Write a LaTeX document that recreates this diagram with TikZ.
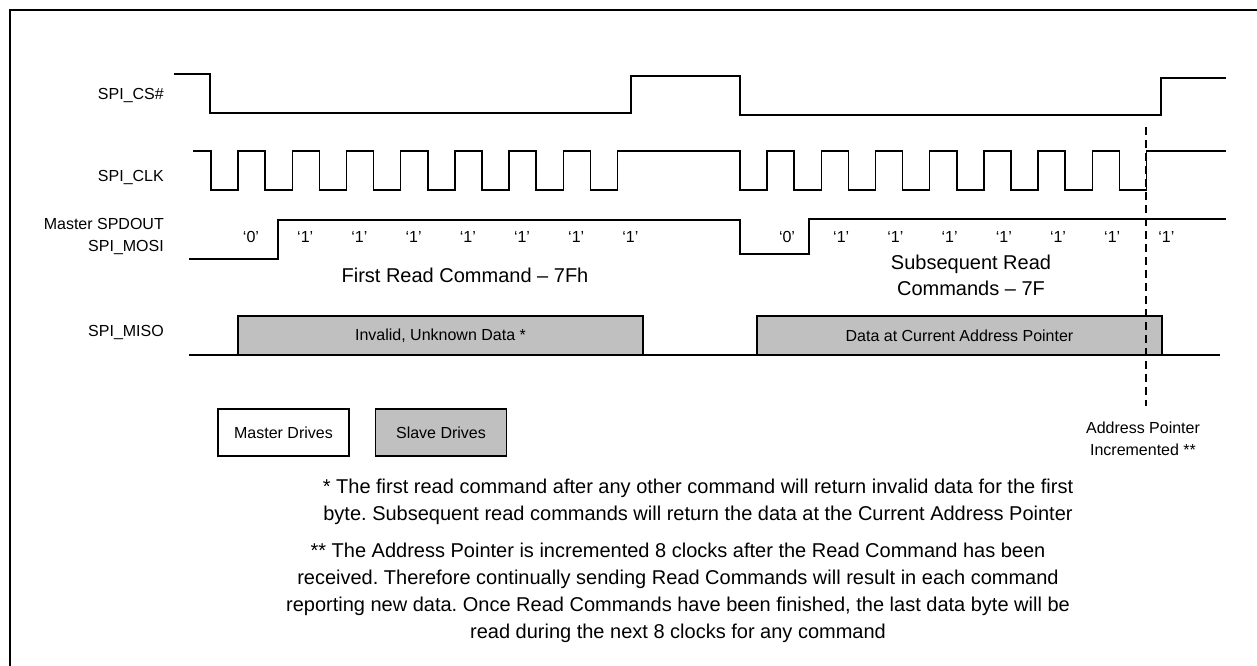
\documentclass[tikz,border=0pt]{standalone}
\usepackage{fontspec}
\setmainfont{Liberation Sans}
\definecolor{drivegray}{RGB}{192,192,192}
\frenchspacing
\begin{document}
\begin{tikzpicture}[x=1pt,y=-1pt,line join=miter,
 signal/.style={line width=1.5pt},
 marker/.style={line width=2pt,dash pattern=on 8pt off 5pt},
 lbl/.style={anchor=east,inner sep=0pt,align=right,font=\fontsize{16}{22}\selectfont},
 bit/.style={inner sep=0pt,font=\fontsize{16}{19}\selectfont},
 cmd/.style={inner sep=0pt,align=center,font=\fontsize{20}{26}\selectfont},
 drivebox/.style={draw,line width=1.2pt,inner sep=0pt,font=\fontsize{16}{19}\selectfont},
 slavebox/.style={drivebox,fill=drivegray},
 note/.style={inner sep=0pt,align=center,font=\fontsize{20}{27}\selectfont}]
 \useasboundingbox (0,0) rectangle (1257,665);
 \fill[white] (0,0) rectangle (1257,665);
 \clip (0,0) rectangle (1257,665);
 \draw[line width=2pt] (10,700) |- (1300,10);
 \def\hp{27.1}
 % signal names
 \node[lbl] (cs) at (164,95) {SPI\_CS\#};
 \node[lbl] (clk) at (164,177) {SPI\_CLK};
 \node[lbl] (mosi) at (164,236) {Master SPDOUT\\SPI\_MOSI};
 \node[lbl] (miso) at (164,332) {SPI\_MISO};
 % chip select
 \draw[signal] (174,74) -- (210,74) -- (210,113) -- (631,113) -- (631,76) -- (740,76)
 -- (740,115) -- (1161,115) -- (1161,78) -- (1226,78);
 % clock, two bursts of 8
 \draw[signal] (193,151) -- (211,151) -- (211,190)
 \foreach \k in {1,...,7}{ -- ++(\hp,0) -- ++(0,-39) -- ++(\hp,0) -- ++(0,39)}
 -- ++(\hp,0) -- ++(0,-39) -- (740,151) -- (740,190)
 \foreach \k in {1,...,7}{ -- ++(\hp,0) -- ++(0,-39) -- ++(\hp,0) -- ++(0,39)}
 -- ++(\hp,0) -- ++(0,-39) -- (1226,151);
 % master out
 \draw[signal] (189,259) -- (278,259) -- (278,220) -- (740,220) -- (740,254)
 -- (809,254) -- (809,219) -- (1226,219);
 \foreach \bitval [count=\i from 0] in {0,1,1,1,1,1,1,1}{
 \node[bit] (first\i) at (251+54.2*\i,237) {`\bitval'};
 \node[bit] (next\i) at (787+54.2*\i,237) {`\bitval'};
 }
 \node[cmd] (cmdfirst) at (465,275) {First Read Command -- 7Fh};
 \node[cmd] (cmdnext) at (971,275) {Subsequent Read\\Commands -- 7F};
 % slave out
 \draw[signal] (189,355) -- (1220,355);
 \node[slavebox,minimum width=405pt,minimum height=39pt] (invalid) at (440.5,335.5) {Invalid, Unknown Data *};
 \node[slavebox,minimum width=405pt,minimum height=39pt] (current) at (959.5,335.5) {Data at Current Address Pointer};
 % address pointer marker
 \coordinate (inctop) at (1146,127);
 \coordinate (incbot) at (1146,406);
 \draw[marker] (inctop) -- (incbot);
 \node[lbl,anchor=center,align=center] (addr) at (1143,438.5) {Address Pointer\\Incremented **};
 % legend
 \node[drivebox,minimum width=131pt,minimum height=47pt] (master) at (283.5,432.5) {Master Drives};
 \node[slavebox,minimum width=131pt,minimum height=47pt] (slave) at (441,432.5) {Slave Drives};
 % notes
 \node[note] (noteone) at (698,502) {* The first read command after any other command will return invalid data for the first\\
 byte. Subsequent read commands will return the data at the Current Address Pointer};
 \node[note] (notetwo) at (678,593) {** The Address Pointer is incremented 8 clocks after the Read Command has been\\
 received. Therefore continually sending Read Commands will result in each command\\
 reporting new data. Once Read Commands have been finished, the last data byte will be\\
 read during the next 8 clocks for any command};
\end{tikzpicture}
\end{document}
